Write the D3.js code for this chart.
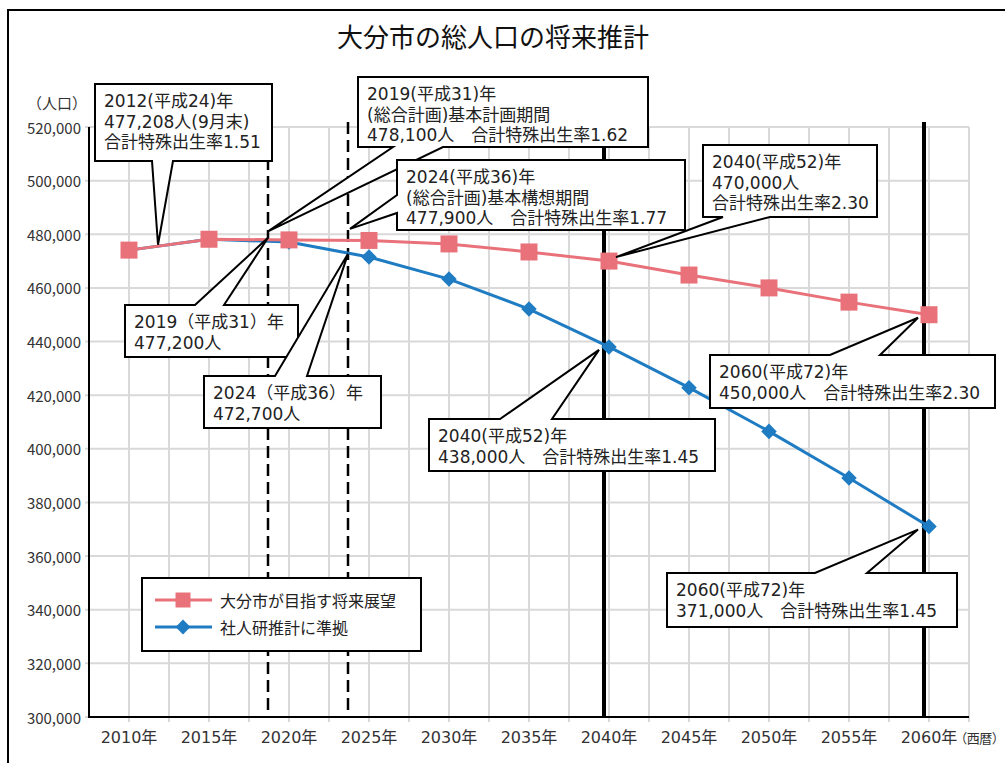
<!DOCTYPE html>
<html lang="ja">
<head>
<meta charset="utf-8">
<script src="https://cdn.jsdelivr.net/npm/d3@7"></script>
<style>
  html, body { margin: 0; padding: 0; background: #fff; }
  svg text { font-family: "Noto Sans CJK JP", sans-serif; }
</style>
</head>
<body>
<div class="chart"></div>
<script>
'use strict';

// data
const years = [2010, 2015, 2020, 2025, 2030, 2035, 2040, 2045, 2050, 2055, 2060];
const visionPop = [474094, 478146, 477900, 477700, 476400, 473400, 470000, 464800, 460000, 454700, 450000];
const ipssPop = [474094, 478146, 477100, 471500, 463300, 452100, 438000, 422800, 406500, 389100, 371000];
const seriesNames = ["大分市が目指す将来展望", "社人研推計に準拠"];
const xTickLabels = ["2010年", "2015年", "2020年", "2025年", "2030年", "2035年", "2040年", "2045年", "2050年", "2055年", "2060年"];
const yTickValues = [300000, 320000, 340000, 360000, 380000, 400000, 420000, 440000, 460000, 480000, 500000, 520000];
const refYears = [2019, 2024, 2040, 2060];
const refDashed = [true, true, false, false];

const noteYears = [2012, 2019, 2024, 2040, 2019, 2024, 2040, 2060, 2060];
const noteValues = [477208, 478100, 477900, 470000, 477200, 472700, 438000, 450000, 371000];
const noteTexts = [
    ["2012(平成24)年", "477,208人(9月末)", "合計特殊出生率1.51"],
    ["2019(平成31)年", "(総合計画)基本計画期間", "478,100人\u3000合計特殊出生率1.62"],
    ["2024(平成36)年", "(総合計画)基本構想期間", "477,900人\u3000合計特殊出生率1.77"],
    ["2040(平成52)年", "470,000人", "合計特殊出生率2.30"],
    ["2019（平成31）年", "477,200人"],
    ["2024（平成36）年", "472,700人"],
    ["2040(平成52)年", "438,000人\u3000合計特殊出生率1.45"],
    ["2060(平成72)年", "450,000人\u3000合計特殊出生率2.30"],
    ["2060(平成72)年", "371,000人\u3000合計特殊出生率1.45"]
];

// callout boxes (pixels), pointer side / base points, tip nudge
const calloutLayout = [
    {x0: 95,  y0: 84,  x1: 272, y1: 161, side: "bottom", a: 152, b: 173, dx: -3,  dy: 3},
    {x0: 358, y0: 77,  x1: 648, y1: 147, side: "bottom", a: 393, b: 443, dx: -5,  dy: -8},
    {x0: 397, y0: 160, x1: 685, y1: 230, side: "left",   a: 195, b: 213, dx: -3,  dy: -11},
    {x0: 703, y0: 145, x1: 877, y1: 217, side: "bottom", a: 723, b: 770, dx: 7,   dy: -4},
    {x0: 125, y0: 305, x1: 298, y1: 357, side: "top",    a: 195, b: 224, dx: -5,  dy: -4},
    {x0: 204, y0: 376, x1: 381, y1: 428, side: "top",    a: 275, b: 307, dx: -5,  dy: 0},
    {x0: 429, y0: 419, x1: 715, y1: 471, side: "top",    a: 500, b: 552, dx: -10, dy: 3},
    {x0: 710, y0: 355, x1: 995, y1: 408, side: "top",    a: 830, b: 880, dx: -11, dy: 3},
    {x0: 667, y0: 573, x1: 957, y1: 627, side: "top",    a: 815, b: 867, dx: -11, dy: 3}
];

const pink = "#e8717a";
const blue = "#1f7cc2";
const noteFont = '"DejaVu Sans", "Noto Sans CJK JP", sans-serif';

const svg = d3.select(".chart").append("svg")
    .attr("width", 1005).attr("height", 763);

const x = d3.scaleLinear().domain([2007.5, 2062.5]).range([89, 969]);
const y = d3.scaleLinear().domain([300000, 520000]).range([717, 127]);

// outer frame
svg.append("path")
    .attr("d", "M8,763 L8,10 L1005,10")
    .attr("fill", "none").attr("stroke", "#000").attr("stroke-width", 2);

svg.append("text")
    .attr("x", 493).attr("y", 35)
    .attr("text-anchor", "middle").attr("dominant-baseline", "central")
    .style("font-size", "26px").attr("fill", "#111")
    .text("大分市の総人口の将来推計");

// grid
const grid = svg.append("g").attr("stroke", "#d9d9d9").attr("stroke-width", 2);
grid.selectAll(".gv").data(d3.range(2010, 2062.6, 2.5)).enter().append("line")
    .attr("x1", d => x(d)).attr("x2", d => x(d))
    .attr("y1", y(520000)).attr("y2", y(300000) + 5);
grid.selectAll(".gh").data(yTickValues).enter().append("line")
    .attr("x1", x.range()[0] - 4).attr("x2", x.range()[1])
    .attr("y1", d => y(d)).attr("y2", d => y(d));

// reference lines
svg.selectAll(".ref").data(refYears).enter().append("line")
    .attr("x1", d => x(d) - 5).attr("x2", d => x(d) - 5)
    .attr("y1", y(520000) - 5).attr("y2", y(300000))
    .attr("stroke", "#000")
    .attr("stroke-width", (d, i) => refDashed[i] ? 2.5 : 4)
    .attr("stroke-dasharray", (d, i) => refDashed[i] ? "12,6" : null);

// axes
svg.append("path")
    .attr("d", "M" + x.range()[0] + "," + y(520000) + " L" + x.range()[0] + "," + y(300000) + " L" + x.range()[1] + "," + y(300000))
    .attr("fill", "none").attr("stroke", "#000").attr("stroke-width", 2);

svg.selectAll(".ytick").data(yTickValues).enter().append("text")
    .attr("x", 81).attr("y", d => y(d))
    .attr("text-anchor", "end").attr("dominant-baseline", "central")
    .style("font-size", "15px").attr("fill", "#333")
    .text(d => d3.format(",")(d));

svg.append("text")
    .attr("x", 57).attr("y", 102)
    .attr("text-anchor", "middle").attr("dominant-baseline", "central")
    .style("font-size", "15px").attr("fill", "#333")
    .text("（人口）");

const xl = svg.selectAll(".xtick").data(years).enter().append("text")
    .attr("x", d => x(d)).attr("y", 737)
    .attr("text-anchor", "middle").attr("dominant-baseline", "central")
    .style("font-size", "16px").style("font-family", noteFont).attr("fill", "#333")
    .text((d, i) => xTickLabels[i]);

let lastW = xl.nodes()[xl.size() - 1].getComputedTextLength();
svg.append("text")
    .attr("x", x(years[years.length - 1]) + lastW / 2 - 3).attr("y", 737)
    .attr("dominant-baseline", "central")
    .style("font-size", "13px").style("letter-spacing", "-0.5px").attr("fill", "#333")
    .text("（西暦）");

// series
const line = d3.line().x((d, i) => x(years[i])).y(d => y(d));

svg.append("path").datum(ipssPop)
    .attr("d", line).attr("fill", "none")
    .attr("stroke", blue).attr("stroke-width", 3);
svg.selectAll(".dia").data(ipssPop).enter().append("path")
    .attr("d", d3.symbol().type(d3.symbolSquare).size(121))
    .attr("transform", (d, i) => "translate(" + x(years[i]) + "," + y(d) + ") rotate(45)")
    .attr("fill", blue);

svg.append("path").datum(visionPop)
    .attr("d", line).attr("fill", "none")
    .attr("stroke", pink).attr("stroke-width", 3);
svg.selectAll(".sq").data(visionPop).enter().append("path")
    .attr("d", d3.symbol().type(d3.symbolSquare).size(289))
    .attr("transform", (d, i) => "translate(" + x(years[i]) + "," + y(d) + ")")
    .attr("fill", pink);

// legend
const legend = svg.append("g");
legend.append("rect")
    .attr("x", 142).attr("y", 578).attr("width", 279).attr("height", 73)
    .attr("fill", "#fff").attr("stroke", "#000").attr("stroke-width", 2);
[pink, blue].forEach((c, i) => {
    let ly = 600 + i * 27;
    legend.append("line").attr("x1", 155).attr("x2", 212).attr("y1", ly).attr("y2", ly)
        .attr("stroke", c).attr("stroke-width", 3);
    legend.append("path")
        .attr("d", d3.symbol().type(d3.symbolSquare).size(i == 0 ? 225 : 110))
        .attr("transform", "translate(183," + ly + ")" + (i == 0 ? "" : " rotate(45)"))
        .attr("fill", c);
    legend.append("text")
        .attr("x", 220).attr("y", ly)
        .attr("dominant-baseline", "central")
        .style("font-size", "16px").attr("fill", "#222")
        .text(seriesNames[i]);
});

// callouts
function calloutPath(b, tx, ty) {
    if (b.side == "bottom") {
        return "M" + b.x0 + "," + b.y0 + " L" + b.x1 + "," + b.y0 + " L" + b.x1 + "," + b.y1 +
            " L" + b.b + "," + b.y1 + " L" + tx + "," + ty + " L" + b.a + "," + b.y1 +
            " L" + b.x0 + "," + b.y1 + " Z";
    }
    if (b.side == "top") {
        return "M" + b.x0 + "," + b.y0 + " L" + b.a + "," + b.y0 + " L" + tx + "," + ty +
            " L" + b.b + "," + b.y0 + " L" + b.x1 + "," + b.y0 + " L" + b.x1 + "," + b.y1 +
            " L" + b.x0 + "," + b.y1 + " Z";
    }
    return "M" + b.x0 + "," + b.y0 + " L" + b.x1 + "," + b.y0 + " L" + b.x1 + "," + b.y1 +
        " L" + b.x0 + "," + b.y1 + " L" + b.x0 + "," + b.b + " L" + tx + "," + ty +
        " L" + b.x0 + "," + b.a + " Z";
}

noteTexts.forEach((lines, i) => {
    let b = calloutLayout[i];
    let tx = x(noteYears[i]) + b.dx;
    let ty = y(noteValues[i]) + b.dy;
    let g = svg.append("g");
    g.append("path")
        .attr("d", calloutPath(b, tx, ty))
        .attr("fill", "#fff").attr("stroke", "#000")
        .attr("stroke-width", 2).attr("stroke-linejoin", "miter");
    g.selectAll("text").data(lines).enter().append("text")
        .attr("x", b.x0 + 9)
        .attr("y", (d, j) => b.y0 + 17 + j * 20.5)
        .attr("dominant-baseline", "central")
        .style("font-size", "17px").style("font-family", noteFont)
        .attr("fill", "#222")
        .text(d => d);
});
</script>
</body>
</html>
